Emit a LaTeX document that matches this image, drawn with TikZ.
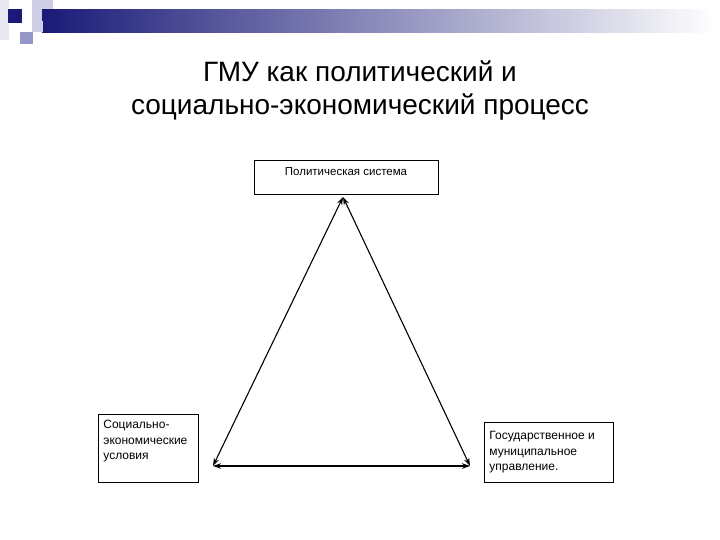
\documentclass[tikz,border=0pt]{standalone}
\usepackage{fontspec}
\setmainfont{Liberation Sans}
\usetikzlibrary{arrows.meta}
\definecolor{navy}{RGB}{26,26,120}
\definecolor{barmid}{RGB}{172,172,198}
\definecolor{lav1}{RGB}{205,205,230}
\definecolor{lav2}{RGB}{150,150,200}
\definecolor{lav0}{RGB}{232,232,242}
\tikzset{
  box/.style={draw=black, line width=0.8pt, inner sep=5pt, font=\fontsize{12}{15.5}\selectfont},
  link/.style={line width=1.1pt, {Stealth[length=8pt,width=5.5pt]}-{Stealth[length=8pt,width=5.5pt]}}
}
\begin{document}
\begin{tikzpicture}[x=1pt,y=-1pt]
\useasboundingbox (0,0) rectangle (720,540);
% header decoration
\fill[lav0] (0,0) rectangle (9,40);
\fill[lav1] (32,0) rectangle (53,21);
\shade[left color=navy, middle color=barmid, right color=white, shading angle=90] (42,10) rectangle (715,33);
\fill[lav1] (32,21) rectangle (43,32);
\fill[navy] (8,9) rectangle (22,23);
\fill[lav2] (20,32) rectangle (33,44);
% title
\node[font=\fontsize{28}{33}\selectfont, align=center] (title) at (360,91)
  {ГМУ как политический и\\социально-экономический процесс};
% boxes
\node[box, font=\fontsize{11.5}{15.5}\selectfont, minimum width=184pt, minimum height=34pt, text height=8.5pt, text depth=12pt] (pol) at (346,177) {Политическая система};
\node[box, anchor=north west] (soc) at (98,414)
  {\parbox[c][58pt][t]{90pt}{\raggedright\vspace*{1pt}Социально-\\экономические\\условия}};
\node[box, anchor=north west] (gos) at (484,422)
  {\parbox[c][50pt][t]{119pt}{\raggedright\vspace*{4pt}Государственное и\\муниципальное\\управление.}};
% triangle
\coordinate (apex) at (343,197);
\coordinate (bl) at (213,466);
\coordinate (br) at (470,466);
\draw[link] (apex) -- (bl);
\draw[link] (apex) -- (br);
\draw[link] (bl) -- (br);
\end{tikzpicture}
\end{document}
